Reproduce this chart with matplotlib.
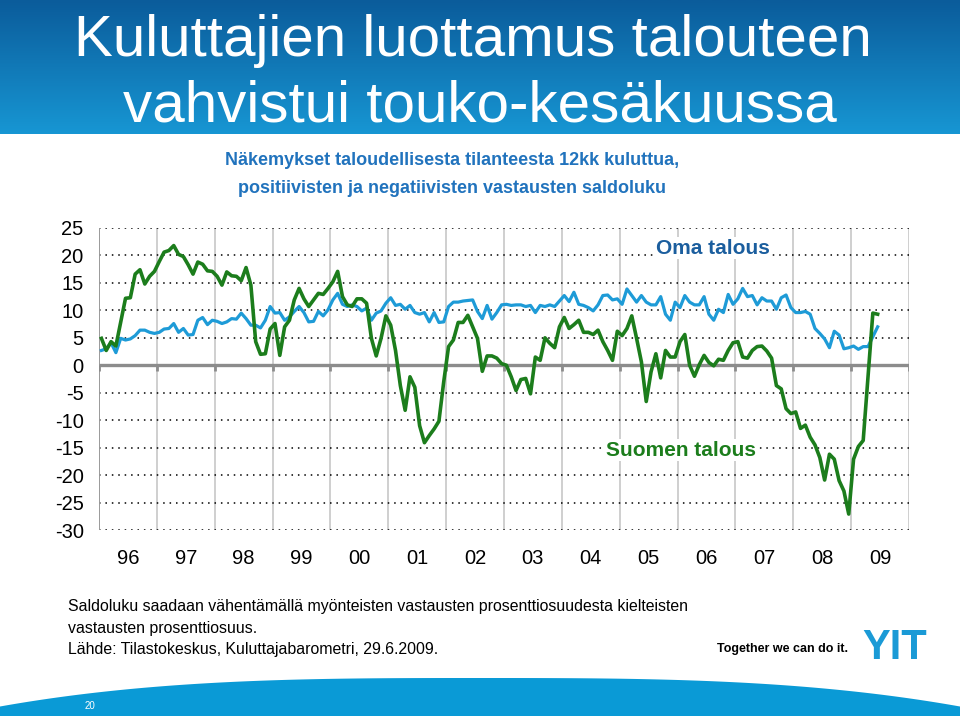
import numpy as np
import matplotlib.pyplot as plt
from matplotlib.colors import LinearSegmentedColormap

# monthly saldoluku, 1/1996 - 6/2009
suomen_talous = [
    4.9, 2.7, 4.3, 3.5, 7.8, 12.2, 12.3, 16.6, 17.4, 14.8, 16.2, 17.1,          # 1996
    18.9, 20.6, 20.9, 21.8, 20.2, 19.8, 18.3, 16.6, 18.8, 18.4, 17.2, 17.1,     # 1997
    16.2, 14.6, 17.0, 16.3, 16.2, 15.4, 17.8, 14.6, 4.3, 2.0, 2.1, 6.6,         # 1998
    7.6, 1.8, 7.0, 8.2, 11.9, 14.0, 12.1, 10.7, 11.9, 13.1, 12.9, 14.0,         # 1999
    15.2, 17.1, 12.5, 11.0, 10.7, 12.1, 12.1, 11.3, 4.9, 1.7, 4.9, 9.0,         # 2000
    7.3, 2.7, -3.7, -8.2, -2.1, -4.0, -11.0, -14.1, -12.8, -11.6, -10.2, -3.0,  # 2001
    3.4, 4.6, 7.8, 7.8, 9.1, 7.0, 4.9, -1.1, 1.7, 1.7, 1.3, 0.3,                # 2002
    0.0, -2.1, -4.6, -2.6, -2.4, -5.2, 1.5, 0.9, 5.0, 4.0, 3.2, 7.0,            # 2003
    8.7, 6.7, 7.4, 8.2, 6.0, 6.0, 5.6, 6.4, 4.3, 2.7, 0.9, 6.2,                 # 2004
    5.4, 6.7, 9.0, 4.9, 0.6, -6.6, -1.2, 2.1, -2.3, 2.7, 1.5, 1.5,              # 2005
    4.3, 5.6, 0.0, -2.0, 0.1, 1.8, 0.5, -0.1, 1.1, 0.9, 2.7, 4.1,               # 2006
    4.3, 1.5, 1.3, 2.7, 3.4, 3.5, 2.6, 1.3, -3.7, -4.3, -7.9, -8.8,             # 2007
    -8.5, -11.5, -10.9, -13.1, -14.5, -16.8, -20.9, -16.2, -17.1, -21.0, -22.9, -27.1,  # 2008
    -17.1, -14.8, -13.7, -2.0, 9.5, 9.3,                                        # 2009
]

oma_talous = [
    2.7, 3.0, 4.1, 2.3, 4.9, 4.6, 4.8, 5.4, 6.4, 6.4, 6.0, 5.8,
    6.0, 6.6, 6.7, 7.6, 6.0, 6.7, 5.5, 5.6, 8.2, 8.7, 7.4, 8.2,
    8.0, 7.6, 7.9, 8.5, 8.4, 9.5, 8.5, 7.3, 7.3, 6.8, 8.2, 10.7,
    9.5, 9.6, 8.2, 8.8, 9.8, 10.7, 9.6, 7.9, 8.0, 9.8, 9.0, 10.1,
    11.9, 13.1, 11.1, 10.7, 11.0, 10.7, 9.9, 10.4, 8.2, 9.5, 9.9, 11.3,
    12.3, 10.9, 11.1, 10.2, 10.9, 9.6, 9.3, 9.6, 7.9, 9.6, 7.8, 7.9,
    10.7, 11.5, 11.5, 11.7, 11.8, 11.9, 9.8, 8.5, 10.9, 8.4, 9.6, 11.0,
    11.1, 10.9, 11.0, 11.0, 10.7, 10.9, 9.6, 10.9, 10.7, 11.0, 10.7, 11.7,
    12.7, 11.6, 13.3, 11.1, 10.9, 10.5, 9.9, 11.0, 12.7, 12.8, 11.9, 12.1,
    11.1, 13.9, 12.7, 11.5, 12.7, 11.5, 11.0, 11.0, 12.5, 9.3, 8.2, 11.5,
    10.5, 12.7, 11.5, 11.0, 11.0, 12.5, 9.3, 8.2, 10.2, 9.6, 12.9, 11.1,
    12.1, 14.0, 12.5, 12.7, 11.0, 12.3, 11.7, 11.7, 10.2, 12.3, 12.8, 10.5,
    9.6, 9.6, 9.8, 9.3, 6.7, 5.8, 4.8, 3.2, 6.2, 5.5, 3.0, 3.2,
    3.5, 2.9, 3.4, 3.4, 5.2, 7.0,
]

years = list(range(1996, 2011))
year_labels = ['96', '97', '98', '99', '00', '01', '02', '03', '04', '05', '06', '07', '08', '09']
y_ticks = [25, 20, 15, 10, 5, 0, -5, -10, -15, -20, -25, -30]

title = ['Kuluttajien luottamus talouteen', 'vahvistui touko-kesäkuussa']
subtitle = ['Näkemykset taloudellisesta tilanteesta 12kk kuluttua,',
            'positiivisten ja negatiivisten vastausten saldoluku']
footnote = ['Saldoluku saadaan vähentämällä myönteisten vastausten prosenttiosuudesta kielteisten',
            'vastausten prosenttiosuus.',
            'Lähde: Tilastokeskus, Kuluttajabarometri, 29.6.2009.']

W, H = 960, 716
GREEN = '#1c7d1c'
BLUE = '#1e9bd7'
plt.rcParams['font.family'] = ['Liberation Sans', 'DejaVu Sans']

fig = plt.figure(figsize=(W / 100, H / 100), dpi=100)


def fx(px):
    return px / W


def fy(py):
    return 1 - py / H


# header band with vertical gradient
hdr = fig.add_axes([0, fy(134), 1, 134 / H])
cmap = LinearSegmentedColormap.from_list('hdr', ['#0b5c9b', '#1796d3'])
hdr.imshow(np.linspace(0, 1, 100).reshape(-1, 1), cmap=cmap, aspect='auto', extent=[0, 1, 0, 1])
hdr.axis('off')
fig.text(fx(473), fy(56), title[0], color='white', ha='center', va='baseline', fontsize=42)
fig.text(fx(480), fy(121), title[1], color='white', ha='center', va='baseline', fontsize=42)

# bottom arc
bot = fig.add_axes([0, 0, 1, 38 / H])
xs = np.linspace(0, 1, 200)
top = 1 - 0.75 * np.abs(2 * xs - 1) ** 3
bot.fill_between(xs, 0, top, color='#0a9ad6', lw=0)
bot.set_xlim(0, 1)
bot.set_ylim(0, 1)
bot.axis('off')
fig.text(fx(90), fy(706), '20', color='white', fontsize=7, ha='center', va='center')

# subtitle
fig.text(fx(452), fy(165), subtitle[0], color='#2173bd', fontsize=13, fontweight='bold',
         ha='center', va='baseline')
fig.text(fx(452), fy(193), subtitle[1], color='#2173bd', fontsize=13, fontweight='bold',
         ha='center', va='baseline')

# chart
ax = fig.add_axes([fx(99), fy(530), (909 - 99) / W, (530 - 228) / H])
x = [1996 + (i + 0.5) / 12 for i in range(len(suomen_talous))]

for v in y_ticks:
    if v != 0:
        ax.plot([1996, 2010], [v, v], color='black', lw=1.1, ls=(0, (1, 3.2)), zorder=1)
ax.vlines(years[1:], -30, 25, color='#cfcfcf', lw=1.4, zorder=0)
ax.vlines([1996], -30, 25, color='#9a9a9a', lw=1.4, zorder=1)
ax.plot([1996, 2010], [0, 0], color='#8c8c8c', lw=2.4, zorder=2, solid_capstyle='butt')
ax.vlines(years, -1.1, 0, color='#8c8c8c', lw=2.0, zorder=2)

ax.plot(x, oma_talous, color=BLUE, lw=2.3, zorder=3, clip_on=False)
ax.plot(x, suomen_talous, color=GREEN, lw=2.6, zorder=4, clip_on=False)

ax.text(2007.6, 21.3, 'Oma talous', color='#1b5e9e', fontsize=15, fontweight='bold',
        ha='right', va='center', zorder=5,
        bbox=dict(facecolor='white', edgecolor='none', pad=1))
ax.text(2007.35, -15.5, 'Suomen talous', color=GREEN, fontsize=15, fontweight='bold',
        ha='right', va='center', zorder=5,
        bbox=dict(facecolor='white', edgecolor='none', pad=1))

ax.set_xlim(1996, 2010)
ax.set_ylim(-30, 25)
ax.set_xticks([yr + 0.5 for yr in years[:-1]])
ax.set_xticklabels(year_labels)
ax.set_yticks(y_ticks)
ax.set_yticklabels([str(v) for v in y_ticks])
ax.tick_params(axis='both', length=0, labelsize=14.5)
ax.tick_params(axis='x', pad=14)
ax.tick_params(axis='y', pad=11)
for s in ax.spines.values():
    s.set_visible(False)
ax.patch.set_alpha(0)

# footnote
for i, line in enumerate(footnote):
    fig.text(fx(68), fy(611 + i * 21.5), line, fontsize=11.4, ha='left', va='baseline')

# logo
fig.text(fx(717), fy(652), 'Together we can do it.', fontsize=9, fontweight='bold', ha='left', va='baseline')
fig.text(fx(895), fy(648), 'YIT', fontsize=30, fontweight='heavy', color='#1a9ad6',
         ha='center', va='center')

fig.savefig('out.png', dpi=100)
